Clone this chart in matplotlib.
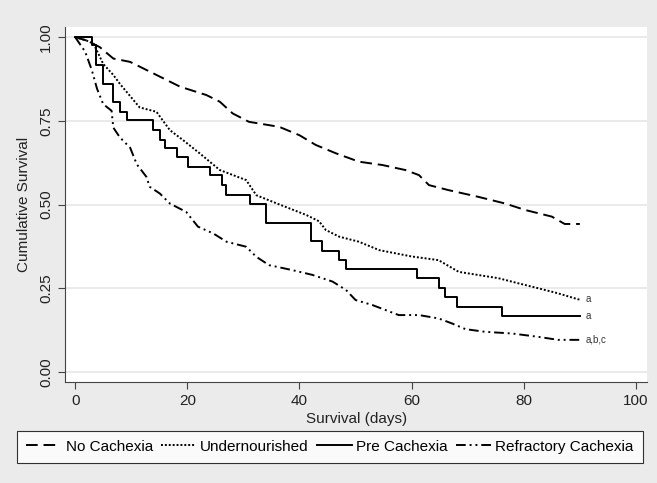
import matplotlib
matplotlib.use("Agg")
import matplotlib.pyplot as plt

plt.rcParams['font.family'] = ['Liberation Sans Narrow', 'Liberation Sans', 'DejaVu Sans']

# Kaplan-Meier curves (days, cumulative survival)
no_cach_t = [0, 2, 4.4, 6.8, 9.8, 14.5, 18.7, 23.4, 25.8, 28.1, 31.0, 36.4, 40, 42.9,
             46.5, 50.6, 54.8, 58.9, 61.3, 63.1, 66.6, 71.9, 76.7, 80.2, 85.0, 87.3, 90]
no_cach_s = [1.0, 0.99, 0.97, 0.936, 0.926, 0.887, 0.852, 0.827, 0.807, 0.772, 0.747, 0.732,
             0.707, 0.678, 0.653, 0.628, 0.618, 0.603, 0.588, 0.558, 0.543, 0.523, 0.503,
             0.484, 0.464, 0.442, 0.442]

under_t = [0, 2, 3.3, 5, 6.8, 8, 11.5, 14.5, 16.9, 19.2, 22.2, 25.8, 30.5, 32.3, 36, 41.2,
           43.5, 44.7, 47.1, 50.6, 54.2, 60, 64.8, 68.4, 75.5, 79, 82.6, 86.1, 89.7, 90]
under_s = [1.0, 0.99, 0.98, 0.92, 0.887, 0.86, 0.79, 0.777, 0.722, 0.693, 0.653, 0.603,
           0.573, 0.528, 0.503, 0.469, 0.45, 0.424, 0.404, 0.389, 0.364, 0.345, 0.334,
           0.299, 0.28, 0.265, 0.25, 0.235, 0.217, 0.217]

pre_t = [0, 3.0, 3.8, 5.0, 6.8, 8.0, 9.2, 13.9, 15.1, 16.0, 18.1, 20.1, 24.0, 26.1, 26.9,
         31.1, 34.0, 42.0, 44.1, 47.1, 48.3, 61.0, 64.8, 66.0, 68.1, 76.1, 90]
pre_s = [1.0, 0.976, 0.916, 0.861, 0.807, 0.777, 0.752, 0.722, 0.693, 0.668, 0.643, 0.613,
         0.588, 0.558, 0.528, 0.503, 0.446, 0.391, 0.361, 0.334, 0.307, 0.28, 0.25, 0.225,
         0.195, 0.168, 0.168]

refr_t = [0, 1.8, 3.0, 3.9, 5.0, 6.5, 6.8, 8, 9.8, 11, 12.7, 13.3, 15.1, 16.9, 19.8, 21.9,
          24.6, 27, 30.5, 32.3, 34.6, 38.8, 42.3, 45.9, 48.3, 50, 53, 57.7, 61.3, 64.8, 67.2,
          69.6, 73.1, 77.9, 82.6, 86.1, 90]
refr_s = [1.0, 0.956, 0.90, 0.846, 0.80, 0.78, 0.73, 0.70, 0.67, 0.62, 0.583, 0.553, 0.533,
          0.503, 0.478, 0.434, 0.414, 0.389, 0.374, 0.344, 0.319, 0.304, 0.29, 0.27, 0.245,
          0.215, 0.2, 0.17, 0.17, 0.16, 0.145, 0.128, 0.12, 0.115, 0.105, 0.096, 0.096]

labels = ["No Cachexia", "Undernourished", "Pre Cachexia", "Refractory Cachexia"]
end_notes = ["a", "a", "a,b,c"]

bg = '#ebebeb'
fig = plt.figure(figsize=(6.57, 4.83), dpi=100, facecolor=bg)
ax = fig.add_axes([0.099, 0.209, 0.886, 0.735])
ax.set_facecolor('white')

lw = 1.4
l1, = ax.plot(no_cach_t, no_cach_s, color='black', lw=lw, dashes=(6, 3))
l2, = ax.plot(under_t, under_s, color='black', lw=lw, dashes=(1, 1))
l3, = ax.plot(pre_t, pre_s, color='black', lw=lw, drawstyle='steps-post')
l4, = ax.plot(refr_t, refr_s, color='black', lw=lw, dashes=(5, 2, 1, 2, 1, 2))

ax.text(under_t[-1] + 1, under_s[-1], end_notes[0], fontsize=7, color='#333333', va='center')
ax.text(pre_t[-1] + 1, pre_s[-1], end_notes[1], fontsize=7, color='#333333', va='center')
ax.text(refr_t[-1] + 1, refr_s[-1], end_notes[2], fontsize=7, color='#333333', va='center')

ax.set_xlim(-1.8, 102)
ax.set_ylim(-0.03, 1.03)
ax.set_xticks([0, 20, 40, 60, 80, 100])
ax.set_yticks([0, 0.25, 0.5, 0.75, 1.0])
ax.set_yticklabels(["0.00", "0.25", "0.50", "0.75", "1.00"], rotation=90, va='center')
ax.grid(axis='y', color='#e6e6e6', lw=1.2)
ax.set_axisbelow(True)
for side in ['top', 'right']:
    ax.spines[side].set_visible(False)
for side in ['left', 'bottom']:
    ax.spines[side].set_color('#444444')
ax.tick_params(direction='out', length=5, color='#444444', labelsize=11, labelcolor='#222222')
ax.set_xlabel("Survival (days)", fontsize=11, color='#222222', labelpad=3)
ax.set_ylabel("Cumulative Survival", fontsize=11, color='#222222', labelpad=6)

leg = fig.legend([l1, l2, l3, l4], labels, loc='center', bbox_to_anchor=(0.502, 0.075),
                 ncol=4, frameon=True, fancybox=False, edgecolor='black', facecolor='white',
                 fontsize=11, handlelength=2.3, handletextpad=0.3, columnspacing=0.5,
                 borderpad=0.6)
leg.get_frame().set_linewidth(0.8)

fig.savefig("out.png", dpi=100, facecolor=bg)
